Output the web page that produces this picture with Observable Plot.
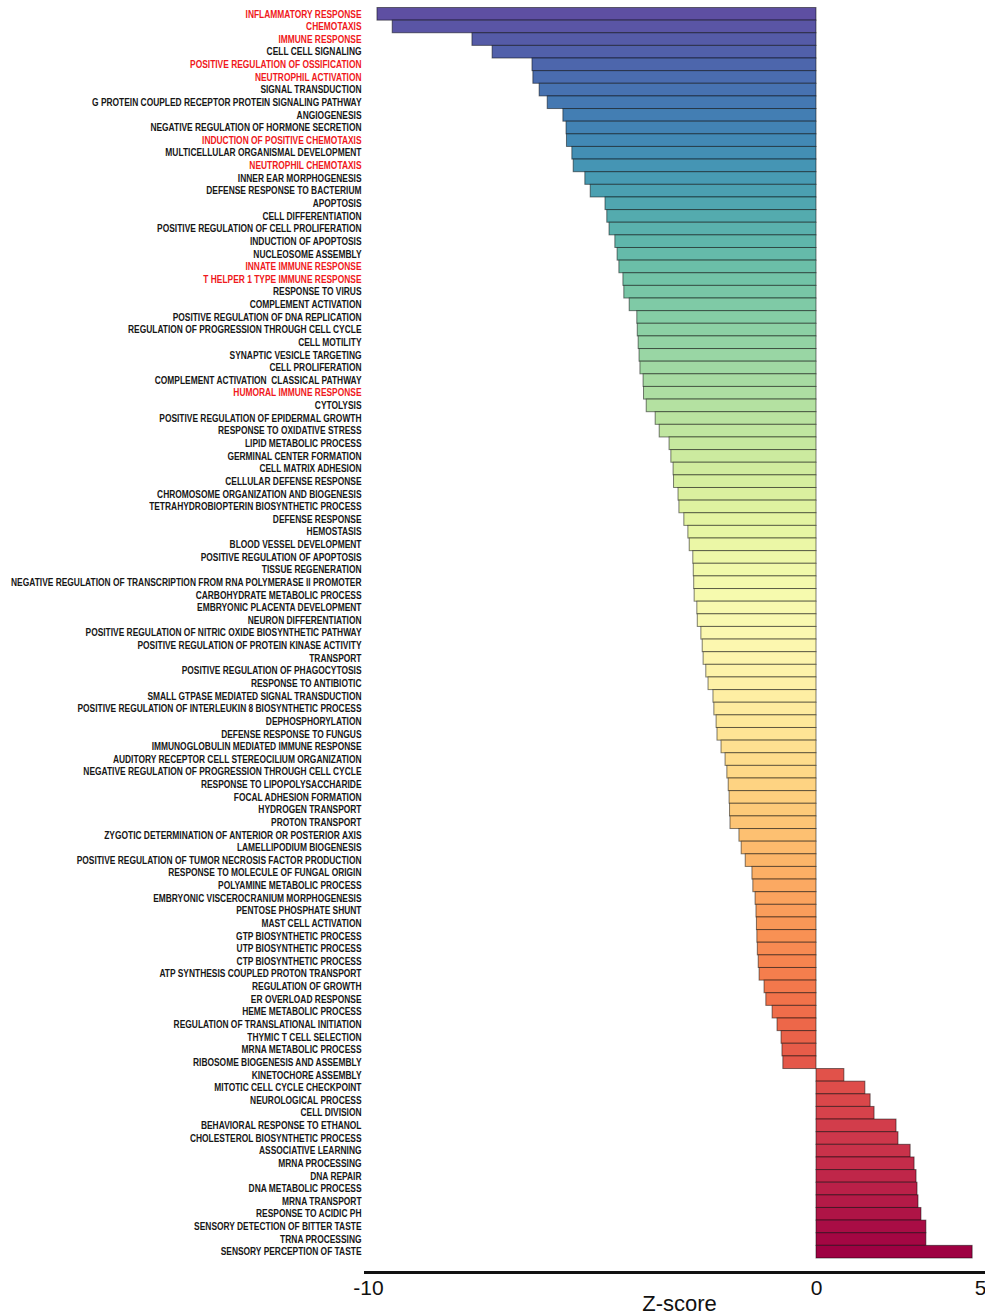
<!DOCTYPE html>
<html>
<head>
<meta charset="utf-8">
<script src="https://cdn.jsdelivr.net/npm/d3@7"></script>
<script src="https://cdn.jsdelivr.net/npm/@observablehq/plot@0.6"></script>
<style>
  html, body { margin: 0; padding: 0; background: #fff; }
  svg { display: block; overflow: visible; }
</style>
</head>
<body>
<div id="chart"></div>
<script>
const categories = [
  "INFLAMMATORY RESPONSE", "CHEMOTAXIS", "IMMUNE RESPONSE", "CELL CELL SIGNALING",
  "POSITIVE REGULATION OF OSSIFICATION", "NEUTROPHIL ACTIVATION", "SIGNAL TRANSDUCTION",
  "G PROTEIN COUPLED RECEPTOR PROTEIN SIGNALING PATHWAY", "ANGIOGENESIS",
  "NEGATIVE REGULATION OF HORMONE SECRETION", "INDUCTION OF POSITIVE CHEMOTAXIS",
  "MULTICELLULAR ORGANISMAL DEVELOPMENT", "NEUTROPHIL CHEMOTAXIS", "INNER EAR MORPHOGENESIS",
  "DEFENSE RESPONSE TO BACTERIUM", "APOPTOSIS", "CELL DIFFERENTIATION",
  "POSITIVE REGULATION OF CELL PROLIFERATION", "INDUCTION OF APOPTOSIS", "NUCLEOSOME ASSEMBLY",
  "INNATE IMMUNE RESPONSE", "T HELPER 1 TYPE IMMUNE RESPONSE", "RESPONSE TO VIRUS",
  "COMPLEMENT ACTIVATION", "POSITIVE REGULATION OF DNA REPLICATION",
  "REGULATION OF PROGRESSION THROUGH CELL CYCLE", "CELL MOTILITY", "SYNAPTIC VESICLE TARGETING",
  "CELL PROLIFERATION", "COMPLEMENT ACTIVATION  CLASSICAL PATHWAY", "HUMORAL IMMUNE RESPONSE",
  "CYTOLYSIS", "POSITIVE REGULATION OF EPIDERMAL GROWTH", "RESPONSE TO OXIDATIVE STRESS",
  "LIPID METABOLIC PROCESS", "GERMINAL CENTER FORMATION", "CELL MATRIX ADHESION",
  "CELLULAR DEFENSE RESPONSE", "CHROMOSOME ORGANIZATION AND BIOGENESIS",
  "TETRAHYDROBIOPTERIN BIOSYNTHETIC PROCESS", "DEFENSE RESPONSE", "HEMOSTASIS",
  "BLOOD VESSEL DEVELOPMENT", "POSITIVE REGULATION OF APOPTOSIS", "TISSUE REGENERATION",
  "NEGATIVE REGULATION OF TRANSCRIPTION FROM RNA POLYMERASE II PROMOTER",
  "CARBOHYDRATE METABOLIC PROCESS", "EMBRYONIC PLACENTA DEVELOPMENT", "NEURON DIFFERENTIATION",
  "POSITIVE REGULATION OF NITRIC OXIDE BIOSYNTHETIC PATHWAY",
  "POSITIVE REGULATION OF PROTEIN KINASE ACTIVITY", "TRANSPORT",
  "POSITIVE REGULATION OF PHAGOCYTOSIS", "RESPONSE TO ANTIBIOTIC",
  "SMALL GTPASE MEDIATED SIGNAL TRANSDUCTION",
  "POSITIVE REGULATION OF INTERLEUKIN 8 BIOSYNTHETIC PROCESS", "DEPHOSPHORYLATION",
  "DEFENSE RESPONSE TO FUNGUS", "IMMUNOGLOBULIN MEDIATED IMMUNE RESPONSE",
  "AUDITORY RECEPTOR CELL STEREOCILIUM ORGANIZATION",
  "NEGATIVE REGULATION OF PROGRESSION THROUGH CELL CYCLE", "RESPONSE TO LIPOPOLYSACCHARIDE",
  "FOCAL ADHESION FORMATION", "HYDROGEN TRANSPORT", "PROTON TRANSPORT",
  "ZYGOTIC DETERMINATION OF ANTERIOR OR POSTERIOR AXIS", "LAMELLIPODIUM BIOGENESIS",
  "POSITIVE REGULATION OF TUMOR NECROSIS FACTOR PRODUCTION",
  "RESPONSE TO MOLECULE OF FUNGAL ORIGIN", "POLYAMINE METABOLIC PROCESS",
  "EMBRYONIC VISCEROCRANIUM MORPHOGENESIS", "PENTOSE PHOSPHATE SHUNT", "MAST CELL ACTIVATION",
  "GTP BIOSYNTHETIC PROCESS", "UTP BIOSYNTHETIC PROCESS", "CTP BIOSYNTHETIC PROCESS",
  "ATP SYNTHESIS COUPLED PROTON TRANSPORT", "REGULATION OF GROWTH", "ER OVERLOAD RESPONSE",
  "HEME METABOLIC PROCESS", "REGULATION OF TRANSLATIONAL INITIATION", "THYMIC T CELL SELECTION",
  "MRNA METABOLIC PROCESS", "RIBOSOME BIOGENESIS AND ASSEMBLY", "KINETOCHORE ASSEMBLY",
  "MITOTIC CELL CYCLE CHECKPOINT", "NEUROLOGICAL PROCESS", "CELL DIVISION",
  "BEHAVIORAL RESPONSE TO ETHANOL", "CHOLESTEROL BIOSYNTHETIC PROCESS", "ASSOCIATIVE LEARNING",
  "MRNA PROCESSING", "DNA REPAIR", "DNA METABOLIC PROCESS", "MRNA TRANSPORT",
  "RESPONSE TO ACIDIC PH", "SENSORY DETECTION OF BITTER TASTE", "TRNA PROCESSING",
  "SENSORY PERCEPTION OF TASTE"
];

const zscores = [
  -9.80, -9.46, -7.68, -7.23, -6.34, -6.32, -6.18, -6.00, -5.65, -5.58,
  -5.57, -5.45, -5.42, -5.16, -5.04, -4.71, -4.67, -4.62, -4.49, -4.44,
  -4.40, -4.31, -4.29, -4.17, -4.00, -3.99, -3.97, -3.95, -3.93, -3.86,
  -3.85, -3.79, -3.59, -3.50, -3.28, -3.24, -3.19, -3.18, -3.08, -3.06,
  -2.95, -2.86, -2.83, -2.75, -2.74, -2.73, -2.72, -2.66, -2.65, -2.57,
  -2.54, -2.52, -2.46, -2.41, -2.30, -2.28, -2.23, -2.21, -2.12, -2.03,
  -1.99, -1.96, -1.94, -1.93, -1.92, -1.72, -1.67, -1.58, -1.43, -1.41,
  -1.36, -1.34, -1.33, -1.32, -1.31, -1.29, -1.27, -1.16, -1.12, -0.98,
  -0.87, -0.78, -0.76, -0.74,
  0.85, 1.49, 1.65, 1.77, 2.44, 2.50, 2.87, 2.99, 3.05, 3.08, 3.11, 3.20, 3.35, 3.35, 4.76
];

// categories whose labels are highlighted in red
const highlighted = [
  "INFLAMMATORY RESPONSE", "CHEMOTAXIS", "IMMUNE RESPONSE", "POSITIVE REGULATION OF OSSIFICATION",
  "NEUTROPHIL ACTIVATION", "INDUCTION OF POSITIVE CHEMOTAXIS", "NEUTROPHIL CHEMOTAXIS",
  "INNATE IMMUNE RESPONSE", "T HELPER 1 TYPE IMMUNE RESPONSE", "HUMORAL IMMUNE RESPONSE"
];

const xTicks = [-10, 0, 5];
const xLabel = "Z-score";

const table = categories.map((name, i) => ({
  name, value: zscores[i], rank: i, red: highlighted.includes(name)
}));

// The source axis is drawn with a compressed positive side (0..5 is shorter than 0..-5)
const positiveSquash = 32.8 / 44.8;

const labelFont = "'Liberation Sans', Arial, sans-serif";
const axisFont = "'Liberation Sans', Arial, sans-serif";

const chart = Plot.plot({
  width: 985,
  height: 1311,
  marginLeft: 365,
  marginRight: 0,
  marginTop: 0,
  marginBottom: 39,
  style: {background: "#fff", overflow: "visible"},
  x: {
    type: "linear",
    domain: [-10, 0],
    range: [368, 816],
    transform: v => (v > 0 ? v * positiveSquash : v),
    axis: null
  },
  y: {domain: categories, range: [7.5, 1258], padding: 0, axis: null},
  color: {type: "sequential", scheme: "spectral", reverse: true, domain: [0, categories.length - 1]},
  marks: [
    Plot.barX(table, {
      x: "value", y: "name", fill: "rank",
      stroke: "#000", strokeOpacity: 0.5, strokeWidth: 1
    }),
    Plot.text(table.filter(d => !d.red), {
      y: "name", text: "name", frameAnchor: "left", textAnchor: "end", dx: -4,
      fill: "#161616", fontSize: 10, fontWeight: "bold", fontFamily: labelFont
    }),
    Plot.text(table.filter(d => d.red), {
      y: "name", text: "name", frameAnchor: "left", textAnchor: "end", dx: -4,
      fill: "#f01820", fontSize: 10, fontWeight: "bold", fontFamily: labelFont
    }),
    Plot.frame({anchor: "bottom", stroke: "#111", strokeWidth: 3}),
    // x tick labels
    Plot.text(xTicks, {
      x: d => d, text: d => String(d), frameAnchor: "bottom", lineAnchor: "top", dy: 8,
      fontSize: 21, fontFamily: axisFont, fill: "#111"
    }),
    // x axis title
    Plot.text([xLabel], {
      text: d => d, frameAnchor: "bottom", lineAnchor: "bottom", dy: 38, dx: 4,
      fontSize: 22, fontFamily: axisFont, fill: "#111"
    })
  ]
});

document.getElementById("chart").appendChild(chart);

// emulate a narrow (condensed) face for the category labels
chart.querySelectorAll('g[aria-label="text"] text').forEach(t => {
  const fs = t.closest("g").getAttribute("font-size");
  if (fs !== "10") return;
  const w = t.getComputedTextLength();
  if (w > 0) {
    t.setAttribute("textLength", (w * 0.84).toFixed(2));
    t.setAttribute("lengthAdjust", "spacingAndGlyphs");
  }
});
</script>
</body>
</html>
